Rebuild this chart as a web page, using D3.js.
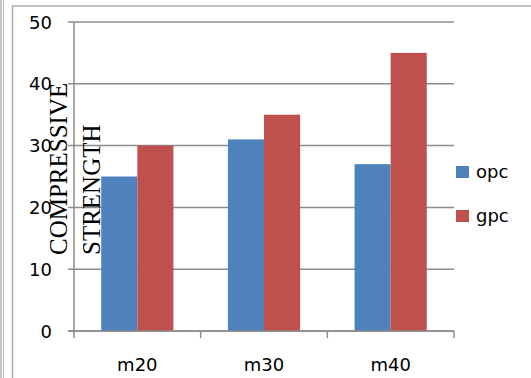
<!DOCTYPE html>
<html>
<head>
<meta charset="utf-8">
<script src="https://cdn.jsdelivr.net/npm/d3@7"></script>
<style>
  html, body { margin: 0; padding: 0; background: #fff; }
  svg { display: block; }
</style>
</head>
<body>
<div class="chart-wrapper"></div>
<script>
// chart data
const categories = ["m20", "m30", "m40"];
const seriesNames = ["opc", "gpc"];
const opcValues = [25, 31, 27];
const gpcValues = [30, 35, 45];
const yTicks = [0, 10, 20, 30, 40, 50];
const titleLines = ["COMPRESSIVE", "STRENGTH"];

const colors = { opc: "#4f81bd", gpc: "#c0504d" };
const width = 531, height = 378;
const plot = { left: 74, right: 454, top: 22, bottom: 331 };

const svg = d3.select(".chart-wrapper")
  .append("svg")
  .attr("width", width)
  .attr("height", height);

// frame lines (the picture is a crop, only left + top edges show)
svg.append("line").attr("x1", 1).attr("x2", 1).attr("y1", 0).attr("y2", height)
  .attr("stroke", "#999").attr("stroke-width", 1.2);
svg.append("line").attr("x1", 3.5).attr("x2", 3.5).attr("y1", 0).attr("y2", height)
  .attr("stroke", "#bbb").attr("stroke-width", 1);
svg.append("line").attr("x1", 12.5).attr("x2", 12.5).attr("y1", 6).attr("y2", height)
  .attr("stroke", "#aaa").attr("stroke-width", 1.5);
svg.append("line").attr("x1", 12).attr("x2", width).attr("y1", 6).attr("y2", 6)
  .attr("stroke", "#aaa").attr("stroke-width", 1.5);

// scales
const x0 = d3.scaleBand().domain(categories).range([plot.left, plot.right]);
const gap = x0.bandwidth() * 0.215;
const x1 = d3.scaleBand().domain(seriesNames).range([gap, x0.bandwidth() - gap]);
const y = d3.scaleLinear().domain([0, 50]).range([plot.bottom, plot.top]);

// gridlines with outward tick
svg.append("g")
  .selectAll("line")
  .data(yTicks)
  .join("line")
  .attr("x1", plot.left - 6)
  .attr("x2", plot.right)
  .attr("y1", d => y(d))
  .attr("y2", d => y(d))
  .attr("stroke", "#8c8c8c")
  .attr("stroke-width", 1.5);

// y tick labels
svg.append("g")
  .selectAll("text")
  .data(yTicks)
  .join("text")
  .attr("x", 52)
  .attr("y", d => y(d) + 6.5)
  .attr("text-anchor", "end")
  .attr("font-family", "DejaVu Sans")
  .attr("font-size", 18)
  .attr("fill", "#000")
  .text(d => d);

// bars
const rows = categories.map((c, i) => ({ cat: c, opc: opcValues[i], gpc: gpcValues[i] }));
svg.append("g")
  .selectAll("g")
  .data(rows)
  .join("g")
  .attr("transform", d => `translate(${x0(d.cat)},0)`)
  .selectAll("rect")
  .data(d => seriesNames.map(s => ({ key: s, value: d[s] })))
  .join("rect")
  .attr("x", d => x1(d.key))
  .attr("width", x1.bandwidth())
  .attr("y", d => y(d.value))
  .attr("height", d => y(0) - y(d.value))
  .attr("fill", d => colors[d.key]);

// y axis line
svg.append("line")
  .attr("x1", plot.left).attr("x2", plot.left)
  .attr("y1", plot.top).attr("y2", plot.bottom)
  .attr("stroke", "#8c8c8c").attr("stroke-width", 1.5);

// x axis line + category boundary ticks
svg.append("line")
  .attr("x1", plot.left - 6).attr("x2", plot.right)
  .attr("y1", plot.bottom).attr("y2", plot.bottom)
  .attr("stroke", "#8c8c8c").attr("stroke-width", 1.5);
const bounds = categories.map(c => x0(c)).concat([plot.right]);
svg.append("g")
  .selectAll("line")
  .data(bounds)
  .join("line")
  .attr("x1", d => d).attr("x2", d => d)
  .attr("y1", plot.bottom).attr("y2", plot.bottom + 7)
  .attr("stroke", "#8c8c8c").attr("stroke-width", 1.5);

// category labels
svg.append("g")
  .selectAll("text")
  .data(categories)
  .join("text")
  .attr("x", d => x0(d) + x0.bandwidth() / 2)
  .attr("y", 371)
  .attr("text-anchor", "middle")
  .attr("font-family", "DejaVu Sans")
  .attr("font-size", 18)
  .attr("fill", "#000")
  .text(d => d);

// axis title, two rotated serif lines
svg.append("g")
  .selectAll("text")
  .data(titleLines)
  .join("text")
  .attr("transform", (d, i) => `translate(${67 + i * 33},255) rotate(-90)`)
  .attr("text-anchor", "start")
  .attr("font-family", "Liberation Serif")
  .attr("font-size", 25)
  .attr("fill", "#000")
  .text(d => d);

// legend
const legend = svg.append("g")
  .selectAll("g")
  .data(seriesNames)
  .join("g")
  .attr("transform", (d, i) => `translate(456,${166 + i * 44})`);
legend.append("rect")
  .attr("width", 13).attr("height", 12)
  .attr("fill", d => colors[d]);
legend.append("text")
  .attr("x", 20).attr("y", 12)
  .attr("font-family", "DejaVu Sans")
  .attr("font-size", 18)
  .attr("fill", "#000")
  .text(d => d);
</script>
</body>
</html>
